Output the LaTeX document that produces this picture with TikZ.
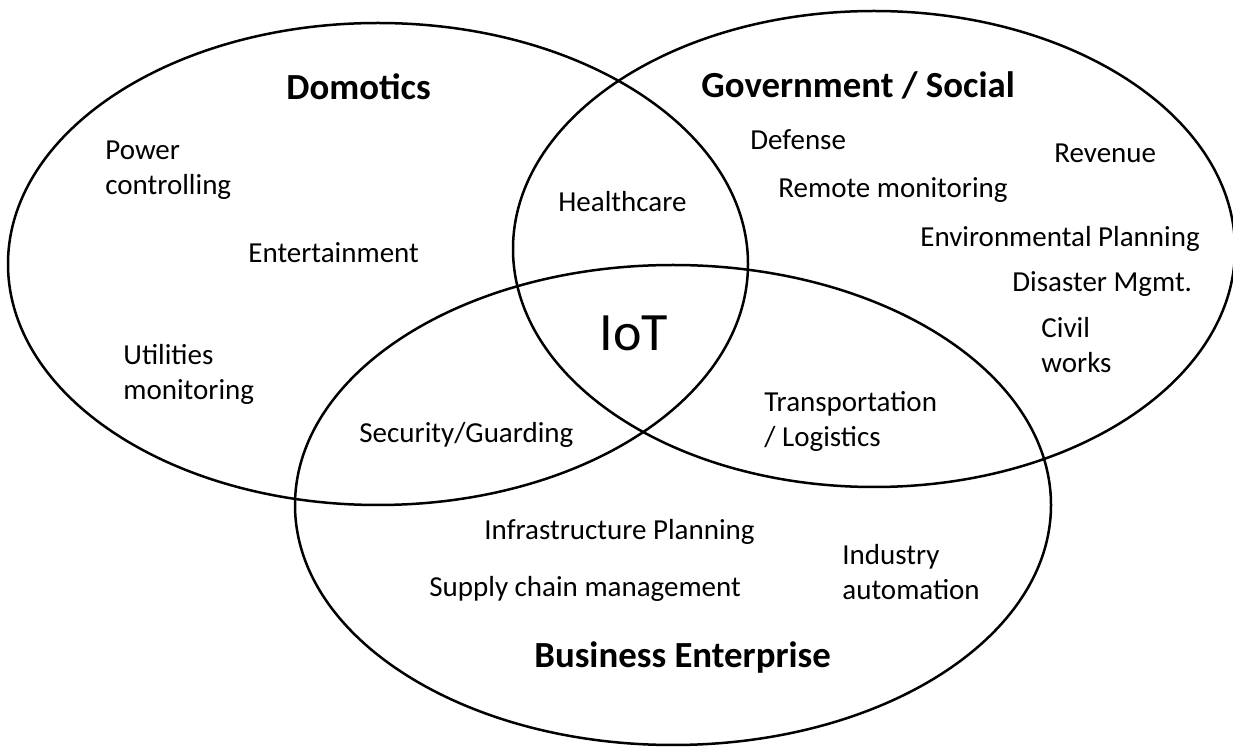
\documentclass[tikz,border=0pt]{standalone}
\usepackage{fontspec}
\setmainfont{Carlito}

\begin{document}
\begin{tikzpicture}[x=0.5pt, y=-0.5pt,
    % Styles
    venn/.style={draw=black, line width=1.25pt},
    area/.style={font=\fontsize{18.4}{22}\selectfont\bfseries, anchor=base west, inner sep=0pt},
    item/.style={font=\fontsize{14.5}{17.5}\selectfont, align=left, anchor=base west, inner sep=0pt},
    core/.style={font=\fontsize{27}{32}\selectfont, anchor=base west, inner sep=0pt},
]
\useasboundingbox (0,0) rectangle (1233,748);

% The three sets
\draw[venn] (378,264) ellipse [x radius=185pt, y radius=120.5pt];
\draw[venn] (874,249) ellipse [x radius=180.5pt, y radius=119pt];
\draw[venn] (673,505) ellipse [x radius=189pt, y radius=120pt];

% Domotics
\node[area] (domotics) at (286,100) {Domotics};
\node[item] (power) at (105,195) {Power\\controlling};
\node[item] (entertain) at (248,263) {Entertainment};
\node[item] (utilities) at (123,400) {Utilities\\monitoring};

% Government / Social
\node[area] (government) at (701,98) {Government / Social};
\node[item] (defense) at (750,150) {Defense};
\node[item] (revenue) at (1054,163) {Revenue};
\node[item] (remote) at (778,198) {Remote monitoring};
\node[item] (environ) at (920,247) {Environmental Planning};
\node[item] (disaster) at (1012,292) {Disaster Mgmt.};
\node[item] (civil) at (1041,373) {Civil\\works};

% Overlaps
\node[item] (health) at (558,212) {Healthcare};
\node[item] (security) at (359,443) {Security/Guarding};
\node[item] (transport) at (764,447) {Transportation\\/ Logistics};
\node[core] (iot) at (599,351) {IoT};

% Business Enterprise
\node[item] (infra) at (484,540) {Infrastructure Planning};
\node[item] (supply) at (429,597) {Supply chain management};
\node[item] (industry) at (842,600) {Industry\\automation};
\node[area] (business) at (534,668) {Business Enterprise};

\end{tikzpicture}
\end{document}
